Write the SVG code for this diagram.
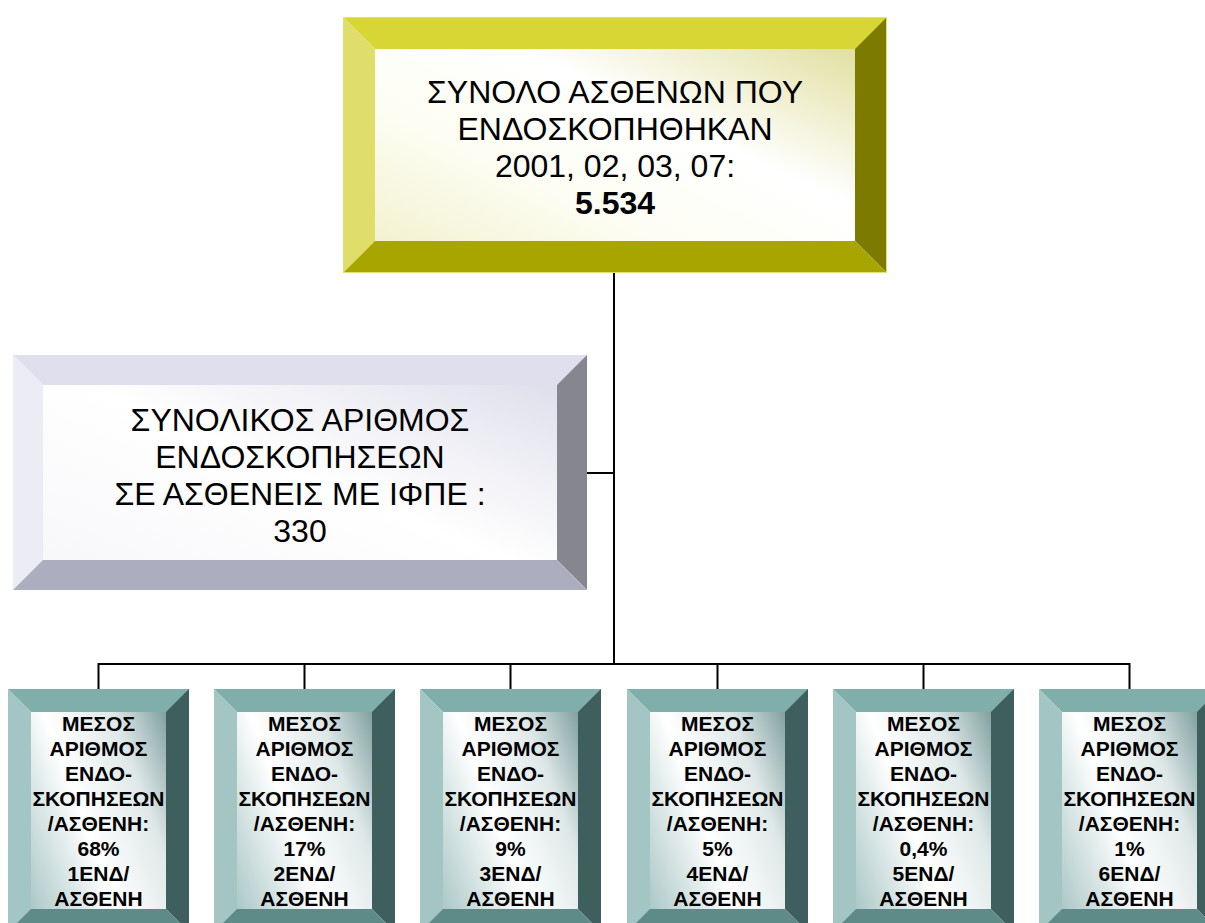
<svg xmlns="http://www.w3.org/2000/svg" width="1205" height="923" viewBox="0 0 1205 923">
<defs>
<style>
.t{font-family:"Liberation Sans",Arial,sans-serif;fill:#000;text-anchor:middle}
.big{font-size:32px}
.sm{font-size:21px;font-weight:bold}
.b{font-weight:bold}
.y-t{fill:#d8d634}.y-l{fill:#e0de6a}.y-r{fill:#7d7a00}.y-b{fill:#a8a500}
.l-t{fill:#dfdfee}.l-l{fill:#ececf5}.l-r{fill:#868690}.l-b{fill:#adadc0}
.g-t{fill:#80aeab}.g-l{fill:#a3c6c4}.g-r{fill:#3f5f5e}.g-b{fill:#5e8a88}
.conn{stroke:#000;stroke-width:2;fill:none}
</style>
<linearGradient id="gy" x1="0" y1="1" x2="1" y2="0">
<stop offset="0" stop-color="#efeec4"/><stop offset="0.35" stop-color="#fdfdf3"/><stop offset="0.6" stop-color="#ffffff"/><stop offset="1" stop-color="#d9d684"/>
</linearGradient>
<linearGradient id="gl" x1="0" y1="1" x2="1" y2="0">
<stop offset="0" stop-color="#f6f6fa"/><stop offset="0.5" stop-color="#ffffff"/><stop offset="1" stop-color="#d8d8e8"/>
</linearGradient>
<linearGradient id="gg" x1="0" y1="0.7" x2="1" y2="0.2">
<stop offset="0" stop-color="#a7c5c4"/><stop offset="0.4" stop-color="#ffffff"/><stop offset="0.7" stop-color="#dfe8e8"/><stop offset="1" stop-color="#6a8f8e"/>
</linearGradient>
<g id="gbox">
<rect x="0" y="0" width="181" height="243" fill="url(#gg)"/>
<polygon class="g-t" points="0,0 181,0 158,23 23,23"/>
<polygon class="g-l" points="0,0 23,23 23,220 0,243"/>
<polygon class="g-r" points="181,0 181,243 158,220 158,23"/>
<polygon class="g-b" points="0,243 23,220 158,220 181,243"/>
</g>
</defs>
<rect width="1205" height="923" fill="#fff"/>
<g id="connectors">
<path class="conn" d="M614,273 V664"/>
<path class="conn" d="M587,473 H614"/>
<path class="conn" d="M98.5,664 H1129.5"/>
<path class="conn" d="M98.5,663 V689 M304.5,663 V689 M510.5,663 V689 M717.5,663 V689 M923.5,663 V689 M1129.5,663 V689"/>
</g>
<g id="node-total">
<rect x="343" y="17" width="544" height="256" fill="url(#gy)"/>
<polygon class="y-t" points="343,17 887,17 855,49 375,49"/>
<polygon class="y-l" points="343,17 375,49 375,241 343,273"/>
<polygon class="y-r" points="887,17 887,273 855,241 855,49"/>
<polygon class="y-b" points="343,273 375,241 855,241 887,273"/>
<rect x="343.5" y="17.5" width="543" height="255" fill="none" stroke="#e2e070" stroke-width="1"/>
<text class="t big" x="615" y="103">ΣΥΝΟΛΟ ΑΣΘΕΝΩΝ ΠΟΥ</text>
<text class="t big" x="615" y="140">ΕΝΔΟΣΚΟΠΗΘΗΚΑΝ</text>
<text class="t big" x="615" y="177">2001, 02, 03, 07:</text>
<text class="t big b" x="615" y="214">5.534</text>
</g>
<g id="node-endoscopies">
<rect x="13" y="355" width="574" height="235" fill="url(#gl)"/>
<polygon class="l-t" points="13,355 587,355 557,385 43,385"/>
<polygon class="l-l" points="13,355 43,385 43,560 13,590"/>
<polygon class="l-r" points="587,355 587,590 557,560 557,385"/>
<polygon class="l-b" points="13,590 43,560 557,560 587,590"/>
<text class="t big" x="300" y="431">ΣΥΝΟΛΙΚΟΣ ΑΡΙΘΜΟΣ</text>
<text class="t big" x="300" y="468">ΕΝΔΟΣΚΟΠΗΣΕΩΝ</text>
<text class="t big" x="300" y="505">ΣΕ ΑΣΘΕΝΕΙΣ ΜΕ ΙΦΠΕ :</text>
<text class="t big" x="300" y="542">330</text>
</g>
<g id="node-1" transform="translate(8,689)">
<use href="#gbox"/>
<text class="t sm" x="90.5"><tspan x="90.5" y="42">ΜΕΣΟΣ</tspan><tspan x="90.5" y="67">ΑΡΙΘΜΟΣ</tspan><tspan x="90.5" y="92">ΕΝΔΟ-</tspan><tspan x="90.5" y="117">ΣΚΟΠΗΣΕΩΝ</tspan><tspan x="90.5" y="142">/ΑΣΘΕΝΗ:</tspan><tspan x="90.5" y="167">68%</tspan><tspan x="90.5" y="192">1ΕΝΔ/</tspan><tspan x="90.5" y="217">ΑΣΘΕΝΗ</tspan></text>
</g>
<g id="node-2" transform="translate(214,689)">
<use href="#gbox"/>
<text class="t sm" x="90.5"><tspan x="90.5" y="42">ΜΕΣΟΣ</tspan><tspan x="90.5" y="67">ΑΡΙΘΜΟΣ</tspan><tspan x="90.5" y="92">ΕΝΔΟ-</tspan><tspan x="90.5" y="117">ΣΚΟΠΗΣΕΩΝ</tspan><tspan x="90.5" y="142">/ΑΣΘΕΝΗ:</tspan><tspan x="90.5" y="167">17%</tspan><tspan x="90.5" y="192">2ΕΝΔ/</tspan><tspan x="90.5" y="217">ΑΣΘΕΝΗ</tspan></text>
</g>
<g id="node-3" transform="translate(420,689)">
<use href="#gbox"/>
<text class="t sm" x="90.5"><tspan x="90.5" y="42">ΜΕΣΟΣ</tspan><tspan x="90.5" y="67">ΑΡΙΘΜΟΣ</tspan><tspan x="90.5" y="92">ΕΝΔΟ-</tspan><tspan x="90.5" y="117">ΣΚΟΠΗΣΕΩΝ</tspan><tspan x="90.5" y="142">/ΑΣΘΕΝΗ:</tspan><tspan x="90.5" y="167">9%</tspan><tspan x="90.5" y="192">3ΕΝΔ/</tspan><tspan x="90.5" y="217">ΑΣΘΕΝΗ</tspan></text>
</g>
<g id="node-4" transform="translate(627,689)">
<use href="#gbox"/>
<text class="t sm" x="90.5"><tspan x="90.5" y="42">ΜΕΣΟΣ</tspan><tspan x="90.5" y="67">ΑΡΙΘΜΟΣ</tspan><tspan x="90.5" y="92">ΕΝΔΟ-</tspan><tspan x="90.5" y="117">ΣΚΟΠΗΣΕΩΝ</tspan><tspan x="90.5" y="142">/ΑΣΘΕΝΗ:</tspan><tspan x="90.5" y="167">5%</tspan><tspan x="90.5" y="192">4ΕΝΔ/</tspan><tspan x="90.5" y="217">ΑΣΘΕΝΗ</tspan></text>
</g>
<g id="node-5" transform="translate(833,689)">
<use href="#gbox"/>
<text class="t sm" x="90.5"><tspan x="90.5" y="42">ΜΕΣΟΣ</tspan><tspan x="90.5" y="67">ΑΡΙΘΜΟΣ</tspan><tspan x="90.5" y="92">ΕΝΔΟ-</tspan><tspan x="90.5" y="117">ΣΚΟΠΗΣΕΩΝ</tspan><tspan x="90.5" y="142">/ΑΣΘΕΝΗ:</tspan><tspan x="90.5" y="167">0,4%</tspan><tspan x="90.5" y="192">5ΕΝΔ/</tspan><tspan x="90.5" y="217">ΑΣΘΕΝΗ</tspan></text>
</g>
<g id="node-6" transform="translate(1039,689)">
<use href="#gbox"/>
<text class="t sm" x="90.5"><tspan x="90.5" y="42">ΜΕΣΟΣ</tspan><tspan x="90.5" y="67">ΑΡΙΘΜΟΣ</tspan><tspan x="90.5" y="92">ΕΝΔΟ-</tspan><tspan x="90.5" y="117">ΣΚΟΠΗΣΕΩΝ</tspan><tspan x="90.5" y="142">/ΑΣΘΕΝΗ:</tspan><tspan x="90.5" y="167">1%</tspan><tspan x="90.5" y="192">6ΕΝΔ/</tspan><tspan x="90.5" y="217">ΑΣΘΕΝΗ</tspan></text>
</g>
</svg>
